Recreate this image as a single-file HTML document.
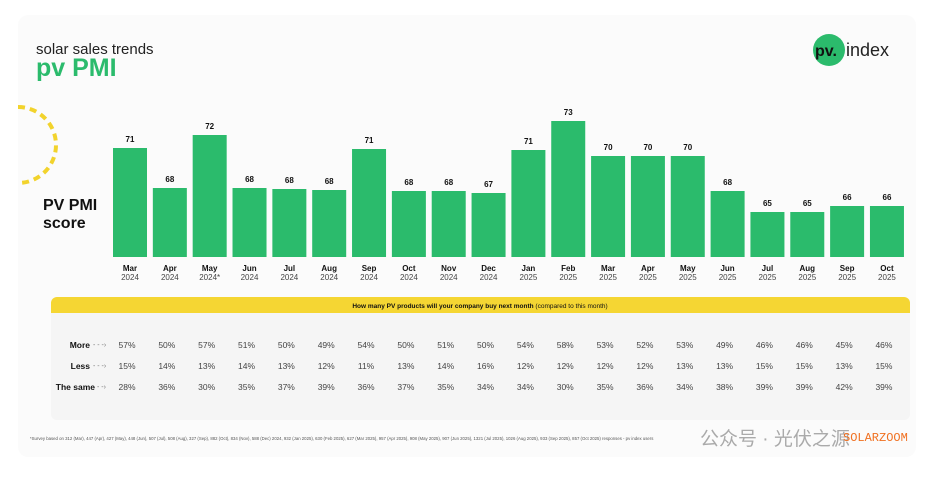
<!DOCTYPE html>
<html><head><meta charset="utf-8"><style>
body{margin:0;width:945px;height:472px;background:#fff;overflow:hidden;font-family:"Liberation Sans","Noto Sans CJK SC",sans-serif}
</style></head><body>
<svg width="945" height="472" xmlns="http://www.w3.org/2000/svg" font-family="Liberation Sans, Noto Sans CJK SC, sans-serif">
<rect x="18" y="15" width="898" height="442" rx="10" fill="#fbfbfb"/>
<path d="M18 107 A38 38 0 0 1 18 183" fill="none" stroke="#f2d32c" stroke-width="4" stroke-dasharray="7 5"/>
<text x="36" y="54" font-size="15" fill="#222">solar sales trends</text>
<text x="36" y="76" font-size="25" font-weight="bold" fill="#2bbb6c">pv PMI</text>
<circle cx="829" cy="50" r="16" fill="#2bbb6c"/>
<text x="815" y="56" font-size="16" font-weight="bold" fill="#111">pv.</text>
<text x="846" y="56" font-size="18" fill="#222">index</text>
<text x="43" y="210" font-size="16" font-weight="bold" fill="#111">PV PMI</text>
<text x="43" y="228" font-size="16" font-weight="bold" fill="#111">score</text>
<g id="bars"></g>
<path d="M51 313 V303 A6 6 0 0 1 57 297 H904 A6 6 0 0 1 910 303 V313 Z" fill="#f5d633"/>
<rect x="51" y="313" width="859" height="107" fill="#f5f5f5" rx="6"/>
<rect x="51" y="313" width="859" height="10" fill="#f5f5f5"/>
<text x="480" y="308" font-size="6.5" text-anchor="middle" fill="#111"><tspan font-weight="bold">How many PV products will your company buy next month</tspan> (compared to this month)</text>
<g font-size="8.5" font-weight="bold" fill="#111" text-anchor="end">
<text x="90" y="348">More</text><text x="90" y="369">Less</text><text x="95" y="390">The same</text>
</g>
<g font-size="7" fill="#777"><text x="93" y="347">- - -›</text><text x="93" y="368">- - -›</text><text x="97" y="389">- -›</text></g>
<g id="tbl" font-size="8.5" fill="#444" text-anchor="middle"></g>
<text x="30" y="440" font-size="4.3" fill="#555">*Survey based on 312 (Mar), 447 (Apr), 427 (May), 448 (Jun), 507 (Jul), 508 (Aug), 327 (Sep), 882 (Oct), 834 (Nov), 588 (Dec) 2024, 932 (Jan 2025), 630 (Feb 2025), 627 (Mar 2025), 957 (Apr 2025), 908 (May 2025), 907 (Jun 2025), 1321 (Jul 2025), 1026 (Aug 2025), 933 (Sep 2025), 857 (Oct 2025) responses - pv index users</text>
<text x="700" y="445" font-size="19" fill="#888" opacity="0.7">公众号 · 光伏之源</text>
<text x="843" y="441" font-size="12" fill="#f07020" font-family="Liberation Mono, monospace">SOLARZOOM</text>
</svg>
<script>
var v=[71,68,72,68,68,68,71,68,68,67,71,73,70,70,70,68,65,65,66,66];
var t=[148,188,135,188,189,190,149,191,191,193,150,121,156,156,156,191,212,212,206,206];
var m=["Mar","Apr","May","Jun","Jul","Aug","Sep","Oct","Nov","Dec","Jan","Feb","Mar","Apr","May","Jun","Jul","Aug","Sep","Oct"];
var mo=[57,50,57,51,50,49,54,50,51,50,54,58,53,52,53,49,46,46,45,46];
var le=[15,14,13,14,13,12,11,13,14,16,12,12,12,12,13,13,15,15,13,15];
var sa=[28,36,30,35,37,39,36,37,35,34,34,30,35,36,34,38,39,39,42,39];
var ns="http://www.w3.org/2000/svg",g=document.getElementById("bars"),tb=document.getElementById("tbl");
function el(p,tag,a,txt){var e=document.createElementNS(ns,tag);for(var k in a)e.setAttribute(k,a[k]);if(txt)e.textContent=txt;p.appendChild(e);}
for(var i=0;i<20;i++){var x=113+i*39.84,c=x+17;
el(g,"rect",{x:x,y:t[i],width:34,height:257-t[i],fill:"#2bbb6c"});
el(g,"text",{x:c,y:t[i]-6,"font-size":8,"font-weight":"bold","text-anchor":"middle",fill:"#111"},v[i]);
el(g,"text",{x:c,y:271,"font-size":8,"font-weight":"bold","text-anchor":"middle",fill:"#111"},m[i]);
el(g,"text",{x:c,y:280,"font-size":8,"text-anchor":"middle",fill:"#444"},(i<10?"2024":"2025")+(i==2?"*":""));
el(tb,"text",{x:c-3,y:348},mo[i]+"%");el(tb,"text",{x:c-3,y:369},le[i]+"%");el(tb,"text",{x:c-3,y:390},sa[i]+"%");}
</script>
</body></html>
